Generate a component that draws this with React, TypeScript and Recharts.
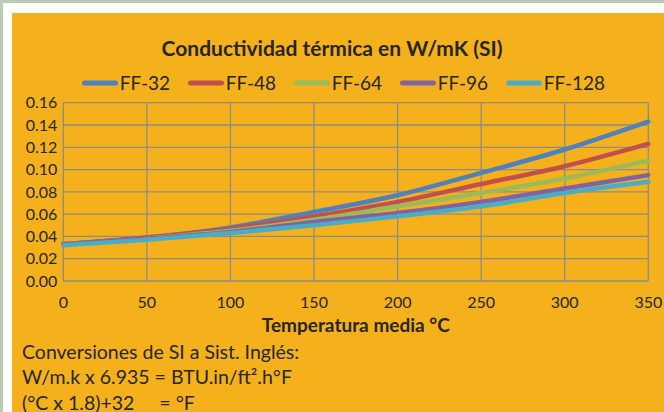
import React from "react";
import { LineChart, Line, XAxis, YAxis, CartesianGrid, Legend } from "recharts";

const temps = [0, 50, 100, 150, 200, 250, 300, 350];
const ff32 = [0.033, 0.039, 0.048, 0.062, 0.077, 0.097, 0.118, 0.143];
const ff48 = [0.033, 0.039, 0.047, 0.058, 0.071, 0.087, 0.103, 0.123];
const ff64 = [0.033, 0.038, 0.045, 0.055, 0.067, 0.079, 0.092, 0.108];
const ff96 = [0.033, 0.038, 0.044, 0.053, 0.061, 0.071, 0.083, 0.095];
const ff128 = [0.032, 0.037, 0.043, 0.050, 0.058, 0.067, 0.079, 0.089];
const xTicks = [0, 50, 100, 150, 200, 250, 300, 350];
const yTicks = [0, 0.02, 0.04, 0.06, 0.08, 0.1, 0.12, 0.14, 0.16];

const seriesNames = ["FF-32", "FF-48", "FF-64", "FF-96", "FF-128"];
const seriesValues = [ff32, ff48, ff64, ff96, ff128];
const seriesColors = ["#4f81bd", "#c0504d", "#9bbb59", "#8064a2", "#4bacc6"];

const data = temps.map((t, i) => {
  const row: Record<string, number> = { t };
  seriesNames.forEach((n, j) => {
    row[n] = seriesValues[j][i];
  });
  return row;
});

const FONT = "Lato, 'Open Sans', sans-serif";
const TEXT = "#262626";

const LegendContent = (props: any) => {
  const payload = [...(props.payload || [])].sort(
    (a: any, b: any) => seriesNames.indexOf(a.value) - seriesNames.indexOf(b.value)
  );
  return (
    <div style={{ display: "flex", fontFamily: FONT, fontSize: 19, color: TEXT }}>
      {payload.map((p: any) => (
        <div key={p.value} style={{ width: 106, display: "flex", alignItems: "center" }}>
          <svg width={36} height={10} style={{ display: "block" }}>
            <line x1={2.5} y1={5} x2={33.5} y2={5} stroke={p.color} strokeWidth={5} strokeLinecap="round" />
          </svg>
          <span style={{ marginLeft: 2, lineHeight: "20px" }}>{p.value}</span>
        </div>
      ))}
    </div>
  );
};

export default function App() {
  return (
    <div
      style={{
        position: "absolute",
        left: 0,
        top: 0,
        width: 664,
        height: 412,
        background: "#b7cbb5",
        overflow: "hidden",
      }}
    >
      <div style={{ position: "absolute", left: 3, top: 3, width: 700, height: 450, background: "#ffffff" }} />
      <div style={{ position: "absolute", left: 12, top: 13, width: 700, height: 450, background: "#f5b11b" }} />
      <div
        style={{
          position: "absolute",
          left: 0,
          width: 664,
          top: 35,
          textAlign: "center",
          fontFamily: FONT,
          fontWeight: 700,
          fontSize: 21,
          lineHeight: "26px",
          color: TEXT,
        }}
      >
        Conductividad térmica en W/mK (SI)
      </div>
      <div style={{ position: "absolute", left: 0, top: 0 }}>
        <LineChart
          width={664}
          height={412}
          data={data}
          margin={{ top: 102.7, right: 15.7, bottom: 0, left: 0 }}
        >
          <CartesianGrid stroke="#8c8c8c" strokeWidth={1.3} />
          <XAxis
            dataKey="t"
            type="number"
            domain={[0, 350]}
            ticks={xTicks}
            height={131}
            axisLine={false}
            tickLine={false}
            tickSize={0}
            tickMargin={15.5}
            tick={{ fill: TEXT, fontSize: 16, fontFamily: FONT }}
            interval={0}
          />
          <YAxis
            type="number"
            domain={[0, 0.16]}
            ticks={yTicks}
            width={63.3}
            axisLine={false}
            tickLine={false}
            tickSize={0}
            tickMargin={6}
            tickFormatter={(v: number) => v.toFixed(2)}
            tick={{ fill: TEXT, fontSize: 16, fontFamily: FONT }}
            interval={0}
          />
          <Legend
            layout="horizontal"
            verticalAlign="middle"
            align="center"
            content={<LegendContent />}
            wrapperStyle={{ left: 81.7, top: 73, width: 560, height: 20 }}
          />
          {seriesNames.map((n, j) => (
            <Line
              key={n}
              type="monotone"
              dataKey={n}
              name={n}
              stroke={seriesColors[j]}
              strokeWidth={4.5}
              strokeLinecap="round"
              dot={false}
              activeDot={false}
              isAnimationActive={false}
            />
          ))}
        </LineChart>
      </div>
      <div
        style={{
          position: "absolute",
          left: 63.3,
          width: 585,
          top: 313,
          textAlign: "center",
          fontFamily: FONT,
          fontWeight: 700,
          fontSize: 19,
          lineHeight: "24px",
          color: TEXT,
        }}
      >
        Temperatura media °C
      </div>
      <div
        style={{
          position: "absolute",
          left: 22,
          top: 339,
          fontFamily: FONT,
          fontSize: 19.5,
          lineHeight: "25.3px",
          color: TEXT,
          whiteSpace: "pre",
        }}
      >
        <div>Conversiones de SI a Sist. Inglés:</div>
        <div>W/m.k x 6.935 = BTU.in/ft².h°F</div>
        <div>{"(°C x 1.8)+32     = °F"}</div>
      </div>
    </div>
  );
}
